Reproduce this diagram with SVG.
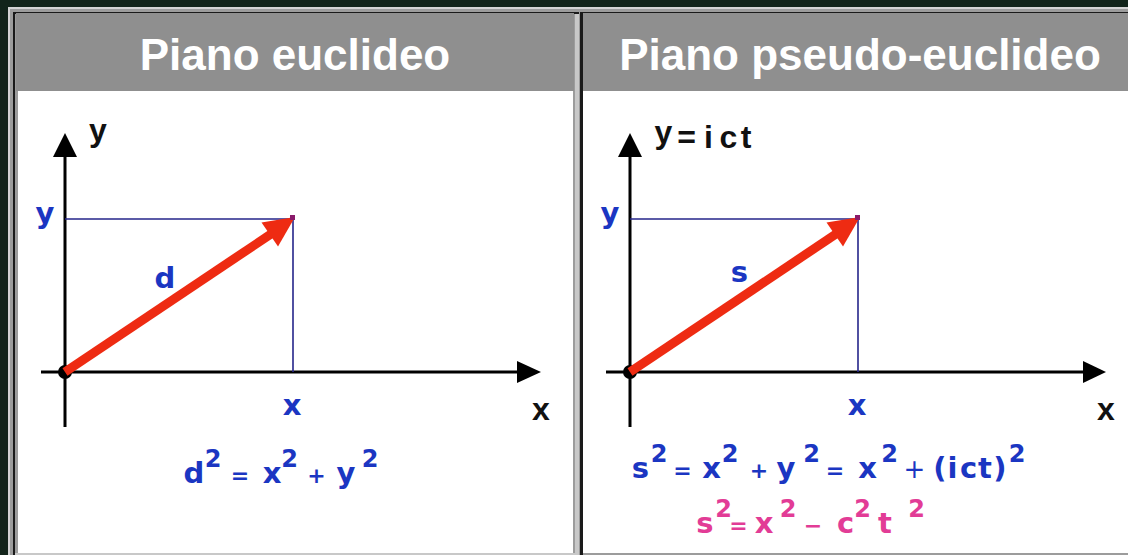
<svg xmlns="http://www.w3.org/2000/svg" width="1128" height="555" viewBox="0 0 1128 555">
<style>
.title{fill:#ffffff;font-family:"Liberation Sans",Arial,sans-serif;font-weight:bold;font-size:44px;text-anchor:middle}
.ax{stroke:#000;stroke-width:3;fill:none}
.axh{fill:#000}
.guide{stroke:#26268a;stroke-width:1.6;fill:none}
.vec{stroke:#ee2b12;stroke-width:9;fill:none}
.vech{fill:#ee2b12}
.blk{fill:#111;font-family:"Liberation Sans",Arial,sans-serif;font-weight:bold;font-size:32px;text-anchor:middle}
.b{fill:#1b36c2;font-family:"DejaVu Sans",Verdana,sans-serif;font-weight:bold;font-size:29px;text-anchor:middle}
.m{fill:#e23c96;font-family:"DejaVu Sans",Verdana,sans-serif;font-weight:bold;font-size:29px;text-anchor:middle}
.sup{font-size:24px}
.op{font-size:22px}
.opr{font-size:26px;font-weight:normal}
</style>
<rect x="0" y="0" width="1128" height="555" fill="#12241a"/>
<g id="frame">
<rect x="8" y="7" width="1130" height="560" fill="#9c9c9c"/>
<path d="M9 555V8H1128" stroke="#d4d4d4" stroke-width="2" fill="none"/>
<rect x="13" y="12" width="566" height="550" fill="#1a1a1a"/>
<rect x="15" y="14" width="564" height="548" fill="#c8c8c8"/>
<rect x="15" y="14" width="560" height="539" fill="#9c9c9c"/>
<rect x="580" y="12" width="560" height="550" fill="#1a1a1a"/>
<rect x="583" y="14" width="560" height="548" fill="#9c9c9c"/>
</g>
<g id="panel-left">
<rect x="16" y="13" width="558" height="78" fill="#8f8f8f"/>
<rect x="18" y="91" width="555" height="462" fill="#ffffff"/>
<text class="title" x="295" y="70">Piano euclideo</text>
</g>
<g id="panel-right">
<rect x="583" y="13" width="545" height="78" fill="#8f8f8f"/>
<rect x="583" y="91" width="545" height="462" fill="#ffffff"/>
<text class="title" x="860" y="70">Piano pseudo-euclideo</text>
</g>
<g id="connectors">
<line class="ax" x1="65" y1="150" x2="65" y2="427"/>
<polygon class="axh" points="65,133 53,157 77,157"/>
<line class="ax" x1="41" y1="372" x2="522" y2="372"/>
<polygon class="axh" points="541,372 517,361 517,383"/>
<circle cx="65" cy="372" r="7" fill="#000"/>
<polyline class="guide" points="65,219 293,219 293,372"/>
<line class="vec" x1="65" y1="372" x2="271" y2="234"/>
<polygon class="vech" points="295,217 278,246.5 261.5,222.5"/>
<rect x="290" y="215" width="5" height="5" fill="#8a1a6a"/>

<line class="ax" x1="630" y1="150" x2="630" y2="427"/>
<polygon class="axh" points="630,133 618,157 642,157"/>
<line class="ax" x1="606" y1="372" x2="1087" y2="372"/>
<polygon class="axh" points="1106,372 1083,361 1083,383"/>
<circle cx="630" cy="372" r="7" fill="#000"/>
<polyline class="guide" points="630,219 858,219 858,372"/>
<line class="vec" x1="630" y1="372" x2="836" y2="234"/>
<polygon class="vech" points="860,217 843,246.5 826.5,222.5"/>
<rect x="855" y="215" width="5" height="5" fill="#8a1a6a"/>
</g>
<g id="labels-left">
<text class="blk" x="98" y="141">y</text>
<text class="b" x="45" y="223">y</text>
<text class="b" x="165" y="288">d</text>
<text class="b" x="292" y="415">x</text>
<text class="blk" x="541" y="420">x</text>
<text class="b"><tspan x="194" y="483">d</tspan><tspan class="sup" x="213" y="467">2</tspan><tspan class="op" x="240" y="483">=</tspan><tspan x="272" y="483">x</tspan><tspan class="sup" x="289.5" y="467">2</tspan><tspan class="op" x="316.5" y="483">+</tspan><tspan x="346" y="483">y</tspan><tspan class="sup" x="370" y="467">2</tspan></text>
</g>
<g id="labels-right">
<text class="blk"><tspan x="663.5" y="143">y</tspan><tspan x="686.5" y="148">=</tspan><tspan x="708.5" y="148">i</tspan><tspan x="728.5" y="148">c</tspan><tspan x="746" y="148">t</tspan></text>
<text class="b" x="610" y="223">y</text>
<text class="b" x="739.5" y="282">s</text>
<text class="b" x="857" y="415">x</text>
<text class="blk" x="1106" y="420">x</text>
<text class="b"><tspan x="640.5" y="478">s</tspan><tspan class="sup" x="659" y="462">2</tspan><tspan class="op" x="682.5" y="478">=</tspan><tspan x="711.5" y="478">x</tspan><tspan class="sup" x="730" y="462">2</tspan><tspan class="op" x="759" y="478">+</tspan><tspan x="786" y="478">y</tspan><tspan class="sup" x="811.5" y="462">2</tspan><tspan class="op" x="835" y="478">=</tspan><tspan x="867.5" y="478">x</tspan><tspan class="sup" x="889.5" y="462">2</tspan><tspan class="opr" x="914.5" y="478">+</tspan><tspan x="940" y="478">(</tspan><tspan x="952.5" y="478">i</tspan><tspan x="968.5" y="478">c</tspan><tspan x="985" y="478">t</tspan><tspan x="1000" y="478">)</tspan><tspan class="sup" x="1017" y="462">2</tspan></text>
<text class="m"><tspan x="705" y="533">s</tspan><tspan class="sup" x="723.5" y="517">2</tspan><tspan class="op" x="738.5" y="533">=</tspan><tspan x="764" y="533">x</tspan><tspan class="sup" x="788" y="517">2</tspan><tspan class="op" x="813" y="533">−</tspan><tspan x="845.5" y="533">c</tspan><tspan class="sup" x="862.5" y="517">2</tspan><tspan x="885" y="533">t</tspan><tspan class="sup" x="916.5" y="517">2</tspan></text>
</g>
</svg>
